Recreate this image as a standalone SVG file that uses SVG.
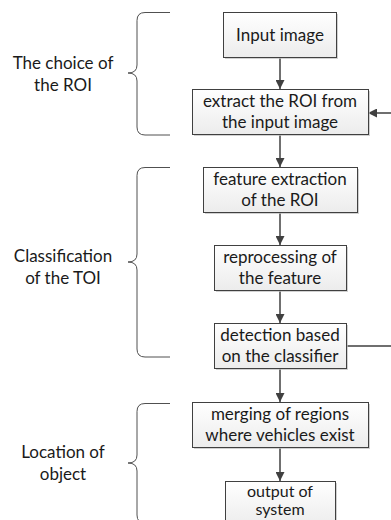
<svg xmlns="http://www.w3.org/2000/svg" width="391" height="520" viewBox="0 0 391 520">
  <defs>
    <linearGradient id="boxfill" x1="0" y1="0" x2="0" y2="1">
      <stop offset="0" stop-color="#ffffff"/>
      <stop offset="1" stop-color="#ececec"/>
    </linearGradient>
    <marker id="arrow" viewBox="0 0 10 10" refX="10" refY="5" markerWidth="9" markerHeight="9" markerUnits="userSpaceOnUse" orient="auto">
      <path d="M0,0 L10,5 L0,10 z" fill="#404040"/>
    </marker>
  </defs>
  <style>
    .box { fill: url(#boxfill); stroke: #404040; stroke-width: 1; }
    .shadow { fill: #bdbdbd; opacity: 0.7; }
    .t { font-family: "Lato", "Liberation Sans", sans-serif; font-size: 17px; fill: #1a1a1a; text-anchor: middle; }
    .brace { fill: none; stroke: #505050; stroke-width: 1; }
    .conn { fill: none; stroke: #404040; stroke-width: 1.5; marker-end: url(#arrow); }
  </style>
  <rect width="391" height="520" fill="#ffffff"/>

  <g id="label-roi">
    <path class="brace" d="M170,12.5 H145 Q137,12.5 137,20.5 V65 Q137,73 128,73 Q137,73 137,81 V127 Q137,135 145,135 H170"/>
    <text class="t" x="63" y="69">The choice of</text>
    <text class="t" x="63" y="91">the ROI</text>
  </g>
  <g id="label-toi">
    <path class="brace" d="M170,167.5 H145 Q137,167.5 137,175.5 V254 Q137,262 128,262 Q137,262 137,270 V349 Q137,357 145,357 H170"/>
    <text class="t" x="63" y="262">Classification</text>
    <text class="t" x="63" y="284">of the TOI</text>
  </g>
  <g id="label-loc">
    <path class="brace" d="M170,403.5 H145 Q137,403.5 137,411.5 V455 Q137,463 128,463 Q137,463 137,471 V515 Q137,523 145,523 H170"/>
    <text class="t" x="63" y="458">Location of</text>
    <text class="t" x="63" y="480">object</text>
  </g>

  <g id="connectors">
    <line class="conn" x1="280" y1="57" x2="280" y2="89"/>
    <line class="conn" x1="280" y1="134" x2="280" y2="167"/>
    <line class="conn" x1="280" y1="212" x2="280" y2="245"/>
    <line class="conn" x1="280" y1="290" x2="280" y2="323"/>
    <line class="conn" x1="280" y1="368" x2="280" y2="402"/>
    <line class="conn" x1="280" y1="447" x2="280" y2="481"/>
    <polyline class="conn" points="346,346 396,346 396,113 368,113"/>
  </g>

  <g id="n-input">
    <rect class="shadow" x="225" y="14" width="113" height="45"/>
    <rect class="box" x="223.5" y="12.5" width="113" height="45"/>
    <text class="t" x="280" y="41">Input image</text>
  </g>
  <g id="n-extract">
    <rect class="shadow" x="194" y="91" width="176" height="45"/>
    <rect class="box" x="192.5" y="89.5" width="176" height="45"/>
    <text class="t" x="280" y="107">extract the ROI from</text>
    <text class="t" x="280" y="128">the input image</text>
  </g>
  <g id="n-feature">
    <rect class="shadow" x="205" y="169" width="154" height="45"/>
    <rect class="box" x="203.5" y="167.5" width="154" height="45"/>
    <text class="t" x="280" y="185">feature extraction</text>
    <text class="t" x="280" y="206">of the ROI</text>
  </g>
  <g id="n-reprocess">
    <rect class="shadow" x="216" y="247" width="132" height="45"/>
    <rect class="box" x="214.5" y="245.5" width="132" height="45"/>
    <text class="t" x="280" y="263">reprocessing of</text>
    <text class="t" x="280" y="284">the feature</text>
  </g>
  <g id="n-detect">
    <rect class="shadow" x="216" y="325" width="132" height="45"/>
    <rect class="box" x="214.5" y="323.5" width="132" height="45"/>
    <text class="t" x="280" y="341">detection based</text>
    <text class="t" x="280" y="362">on the classifier</text>
  </g>
  <g id="n-merge">
    <rect class="shadow" x="194" y="404" width="176" height="45"/>
    <rect class="box" x="192.5" y="402.5" width="176" height="45"/>
    <text class="t" x="280" y="420">merging of regions</text>
    <text class="t" x="280" y="441">where vehicles exist</text>
  </g>
  <g id="n-output">
    <rect class="shadow" x="227" y="483" width="110" height="45"/>
    <rect class="box" x="225.5" y="481.5" width="110" height="45"/>
    <text class="t" x="280" y="497" style="font-size:16px">output of</text>
    <text class="t" x="280" y="515" style="font-size:16px">system</text>
  </g>
</svg>
